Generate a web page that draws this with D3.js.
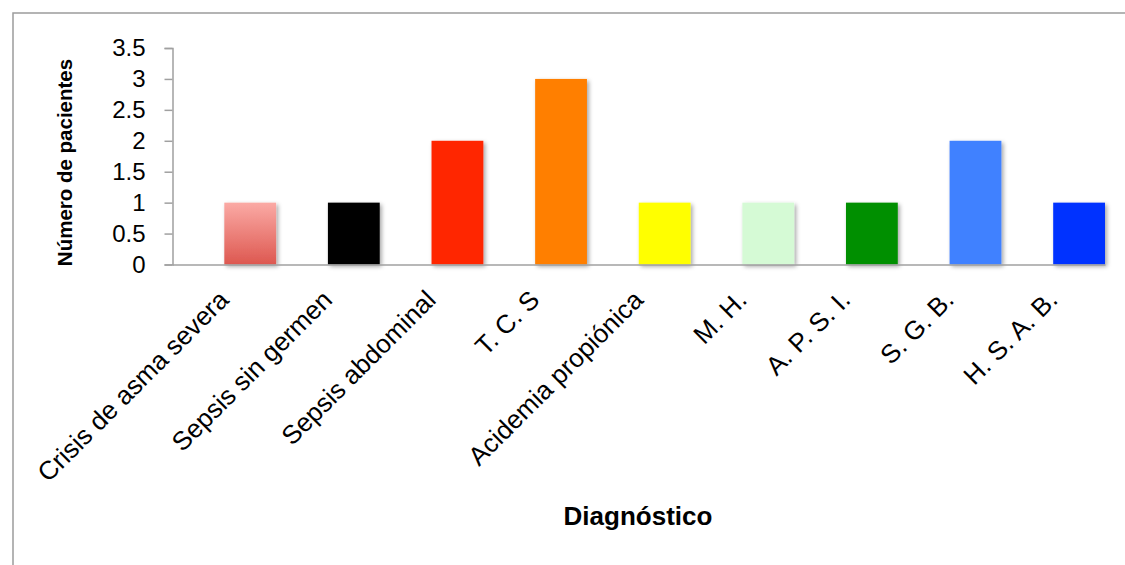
<!DOCTYPE html>
<html>
<head>
<meta charset="utf-8">
<script src="https://cdn.jsdelivr.net/npm/d3@7"></script>
<style>
  html, body { margin: 0; padding: 0; background: #fff; }
  svg { display: block; font-family: "Liberation Sans", Arial, Helvetica, sans-serif; }
</style>
</head>
<body>
<script>
// Diagnoses and number of patients per diagnosis
const categories = [
  "Crisis de asma severa", "Sepsis sin germen", "Sepsis abdominal", "T. C. S",
  "Acidemia propiónica", "M. H.", "A. P. S. I.", "S. G. B.", "H. S. A. B."
];
const patients = [1, 1, 2, 3, 1, 1, 1, 2, 1];
const barColors = [
  "url(#gradCrisis)", "#000000", "#FF2600", "#FF7F00",
  "#FFFF00", "#D5FAD5", "#008F00", "#4181FF", "#0433FF"
];
const yTicks = [0, 0.5, 1, 1.5, 2, 2.5, 3, 3.5];
const yTitle = "Número de pacientes";
const xTitle = "Diagnóstico";

const W = 1125, H = 565;
const svg = d3.select("body").append("svg").attr("width", W).attr("height", H);

const defs = svg.append("defs");
const grad = defs.append("linearGradient")
  .attr("id", "gradCrisis").attr("x1", 0).attr("y1", 0).attr("x2", 0).attr("y2", 1);
grad.append("stop").attr("offset", "0%").attr("stop-color", "#FBAAA5");
grad.append("stop").attr("offset", "100%").attr("stop-color", "#DD5850");

const shadow = defs.append("filter").attr("id", "barShadow")
  .attr("x", "-20%").attr("y", "-20%").attr("width", "150%").attr("height", "150%");
shadow.append("feDropShadow")
  .attr("dx", 2).attr("dy", 2).attr("stdDeviation", 2)
  .attr("flood-color", "#000").attr("flood-opacity", 0.35);

// outer chart frame
svg.append("rect")
  .attr("x", 13).attr("y", 13).attr("width", W + 50).attr("height", H + 50)
  .attr("fill", "none").attr("stroke", "#9c9c9c").attr("stroke-width", 1.5);

const plotLeft = 172.5, plotRight = 1105, plotTop = 48, plotBottom = 264.5;

const x = d3.scaleBand()
  .domain(categories)
  .range([plotLeft, plotRight])
  .paddingInner(0.5)
  .paddingOuter(0.25)
  .align(1);

const y = d3.scaleLinear().domain([0, 3.5]).range([plotBottom, plotTop]);

// bars
svg.append("g").selectAll("rect")
  .data(categories)
  .join("rect")
  .attr("x", d => x(d))
  .attr("y", (d, i) => y(patients[i]))
  .attr("width", x.bandwidth())
  .attr("height", (d, i) => y(0) - y(patients[i]))
  .attr("fill", (d, i) => barColors[i])
  .attr("filter", "url(#barShadow)");

// y axis
const yAxis = svg.append("g")
  .attr("transform", `translate(${plotLeft},0)`)
  .call(d3.axisLeft(y).tickValues(yTicks).tickSize(8).tickPadding(19)
    .tickFormat(d3.format("")));
yAxis.select(".domain").attr("stroke", "#a0a0a0").attr("stroke-width", 1.5);
yAxis.selectAll(".tick line").attr("stroke", "#a0a0a0").attr("stroke-width", 1.5);
yAxis.selectAll(".tick text")
  .attr("font-size", 24).attr("fill", "#000")
  .attr("font-family", "'Liberation Sans', Arial, sans-serif");

// x axis
const xAxis = svg.append("g")
  .attr("transform", `translate(0,${plotBottom})`)
  .call(d3.axisBottom(x).tickSize(0).tickFormat(""));
xAxis.select(".domain").attr("stroke", "#a0a0a0").attr("stroke-width", 1.5);

// rotated category labels
svg.append("g").selectAll("text")
  .data(categories)
  .join("text")
  .attr("transform", d => `translate(${x(d) + x.bandwidth() / 2 - 20},${plotBottom + 37}) rotate(-45)`)
  .attr("text-anchor", "end")
  .attr("font-size", 26)
  .attr("fill", "#000")
  .text(d => d);

// axis titles
svg.append("text")
  .attr("transform", `translate(72,162.5) rotate(-90)`)
  .attr("text-anchor", "middle")
  .attr("font-size", 20.5)
  .attr("font-weight", "bold")
  .text(yTitle);

svg.append("text")
  .attr("x", 638).attr("y", 525)
  .attr("text-anchor", "middle")
  .attr("font-size", 26)
  .attr("font-weight", "bold")
  .text(xTitle);
</script>
</body>
</html>
